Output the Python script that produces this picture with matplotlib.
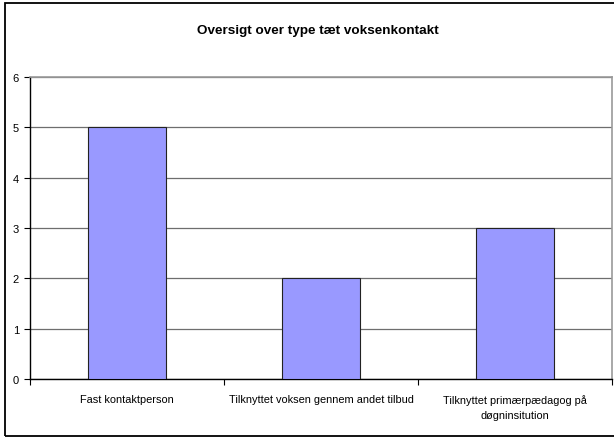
import matplotlib
matplotlib.use("Agg")
import matplotlib.pyplot as plt
from matplotlib.patches import Rectangle

plt.rcParams['font.family'] = ['Liberation Sans', 'DejaVu Sans']

title = "Oversigt over type tæt voksenkontakt"
categories = ["Fast kontaktperson",
              "Tilknyttet voksen gennem andet tilbud",
              "Tilknyttet primærpædagog på\ndøgninsitution"]
values = [5, 2, 3]
y_ticks = [0, 1, 2, 3, 4, 5, 6]

W, H = 614, 439
fig = plt.figure(figsize=(W / 100, H / 100), dpi=100)

# outer chart frame (runs off the right edge)
fig.patches.append(Rectangle((5 / W, 2 / H), 1.0, (435 - 2) / H,
                             transform=fig.transFigure, fill=False,
                             edgecolor='black', linewidth=1.3))

left, right, top, bottom = 30, 612, 78, 380
ax = fig.add_axes([left / W, 1 - bottom / H, (right - left) / W, (bottom - top) / H])

x = list(range(len(categories)))
ax.bar(x, values, width=0.4, color='#9999FF', edgecolor='#222222', linewidth=0.8, zorder=3)

ax.set_xlim(-0.5, len(categories) - 0.5)
ax.set_ylim(0, 6)
ax.set_yticks(y_ticks)
ax.set_yticklabels([str(v) for v in y_ticks], fontsize=8)
ax.yaxis.grid(True, color='#6e6e6e', linewidth=0.9, zorder=1)

# category labels sit between tick marks at category boundaries
ax.set_xticks([i - 0.5 for i in range(len(categories) + 1)])
ax.set_xticklabels([])
ax.set_xticks(x, minor=True)
ax.set_xticklabels(categories, minor=True, fontsize=7.9, linespacing=1.6,
                   va='top')
ax.tick_params(axis='x', which='minor', length=0, pad=11)
ax.tick_params(axis='x', which='major', length=4, direction='out', color='black')
ax.tick_params(axis='y', length=4, direction='out', pad=4, color='black')

for s in ('top', 'right'):
    ax.spines[s].set_color('#9a9a9a')
    ax.spines[s].set_linewidth(1.2)
for s in ('left', 'bottom'):
    ax.spines[s].set_color('black')
    ax.spines[s].set_linewidth(1.0)

fig.text((left + right) / 2 / W - 0.005, 1 - 31 / H, title, ha='center', va='center',
         fontsize=9.7, fontweight='bold')

fig.savefig('out.png', dpi=100)
